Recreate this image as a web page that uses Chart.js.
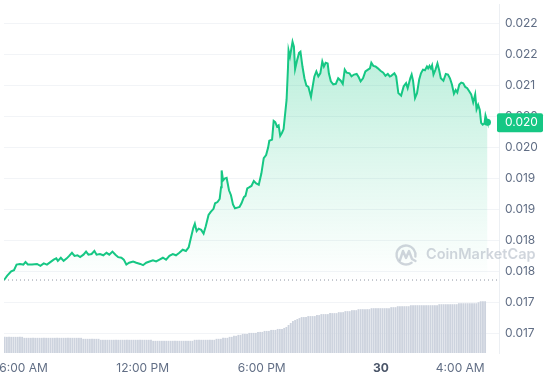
<!DOCTYPE html>
<html>
<head>
<meta charset="utf-8">
<script src="https://cdn.jsdelivr.net/npm/chart.js@4.4.0/dist/chart.umd.min.js"></script>
<style>
  html, body { margin: 0; padding: 0; background: #fff; }
  #wrap { width: 545px; height: 380px; position: relative; }
</style>
</head>
<body>
<div id="wrap"><canvas id="chart"></canvas></div>
<script>
// price, hours since midnight of the 29th (24 = midnight of the 30th)
const priceHours = [
  5.02, 5.18, 5.38, 5.52, 5.65, 5.82, 5.99, 6.10, 6.22, 6.43, 6.68, 6.85, 7.02, 7.18, 7.35, 7.52,
  7.65, 7.73, 7.88, 8.02, 8.18, 8.30, 8.44, 8.57, 8.72, 8.85, 9.02, 9.15, 9.27, 9.43, 9.57, 9.68,
  9.85, 10.02, 10.18, 10.32, 10.48, 10.63, 10.77, 10.93, 11.05, 11.18, 11.32, 11.52, 11.68, 11.88, 12.02, 12.18,
  12.35, 12.52, 12.68, 12.85, 13.02, 13.18, 13.35, 13.52, 13.68, 13.85, 14.02, 14.18, 14.32, 14.43, 14.55, 14.63,
  14.72, 14.82, 14.95, 15.07, 15.18, 15.32, 15.43, 15.57, 15.65, 15.77, 15.88, 15.95, 15.98, 16.05, 16.13, 16.23,
  16.35, 16.45, 16.55, 16.65, 16.77, 16.88, 16.98, 17.10, 17.18, 17.27, 17.38, 17.48, 17.60, 17.72, 17.85, 17.98,
  18.10, 18.22, 18.32, 18.38, 18.52, 18.60, 18.68, 18.77, 18.85, 18.93, 19.02, 19.10, 19.15, 19.25, 19.32, 19.35,
  19.42, 19.48, 19.55, 19.62, 19.68, 19.78, 19.88, 19.95, 20.05, 20.15, 20.25, 20.35, 20.48, 20.55, 20.65, 20.75,
  20.85, 20.95, 21.05, 21.13, 21.22, 21.32, 21.38, 21.48, 21.60, 21.73, 21.85, 21.98, 22.08, 22.18, 22.28, 22.42,
  22.52, 22.65, 22.78, 22.88, 22.98, 23.10, 23.22, 23.35, 23.45, 23.52, 23.62, 23.73, 23.85, 23.98, 24.12, 24.23,
  24.35, 24.45, 24.52, 24.68, 24.77, 24.88, 25.02, 25.15, 25.27, 25.35, 25.48, 25.55, 25.62, 25.72, 25.82, 25.93,
  26.02, 26.12, 26.22, 26.32, 26.38, 26.45, 26.52, 26.58, 26.65, 26.75, 26.85, 26.93, 27.02, 27.15, 27.27, 27.38,
  27.48, 27.58, 27.68, 27.77, 27.85, 27.95, 28.05, 28.15, 28.25, 28.35, 28.45, 28.55, 28.65, 28.75, 28.82, 28.90,
  28.98, 29.05, 29.13, 29.22, 29.27, 29.35, 29.37
]
const prices = [
  0.01836, 0.01843, 0.01850, 0.01852, 0.01861, 0.01862, 0.01861, 0.01865, 0.01861, 0.01861, 0.01862, 0.01859, 0.01863, 0.01861, 0.01865, 0.01869,
  0.01871, 0.01867, 0.01872, 0.01867, 0.01871, 0.01875, 0.01880, 0.01875, 0.01876, 0.01873, 0.01877, 0.01882, 0.01877, 0.01878, 0.01883, 0.01877,
  0.01878, 0.01876, 0.01880, 0.01877, 0.01882, 0.01877, 0.01873, 0.01872, 0.01869, 0.01861, 0.01864, 0.01866, 0.01864, 0.01862, 0.01860, 0.01864,
  0.01866, 0.01868, 0.01866, 0.01869, 0.01872, 0.01869, 0.01875, 0.01878, 0.01876, 0.01880, 0.01885, 0.01883, 0.01889, 0.01904, 0.01920, 0.01927,
  0.01915, 0.01919, 0.01917, 0.01911, 0.01923, 0.01941, 0.01946, 0.01951, 0.01960, 0.01962, 0.01967, 0.01986, 0.02013, 0.01997, 0.02000, 0.02001,
  0.01981, 0.01973, 0.01958, 0.01952, 0.01953, 0.01954, 0.01960, 0.01970, 0.01972, 0.01984, 0.01986, 0.01988, 0.01996, 0.01992, 0.01990, 0.02008,
  0.02033, 0.02038, 0.02050, 0.02061, 0.02063, 0.02093, 0.02091, 0.02084, 0.02086, 0.02069, 0.02074, 0.02080, 0.02096, 0.02127, 0.02178, 0.02207,
  0.02197, 0.02208, 0.02221, 0.02213, 0.02177, 0.02191, 0.02203, 0.02205, 0.02181, 0.02162, 0.02150, 0.02148, 0.02132, 0.02146, 0.02165, 0.02173,
  0.02165, 0.02170, 0.02189, 0.02181, 0.02187, 0.02186, 0.02170, 0.02157, 0.02152, 0.02153, 0.02162, 0.02158, 0.02153, 0.02176, 0.02171, 0.02170,
  0.02165, 0.02168, 0.02169, 0.02164, 0.02157, 0.02162, 0.02173, 0.02176, 0.02178, 0.02187, 0.02182, 0.02181, 0.02178, 0.02174, 0.02171, 0.02166,
  0.02169, 0.02165, 0.02166, 0.02170, 0.02165, 0.02138, 0.02134, 0.02149, 0.02154, 0.02146, 0.02162, 0.02168, 0.02158, 0.02130, 0.02138, 0.02160,
  0.02170, 0.02176, 0.02175, 0.02181, 0.02178, 0.02182, 0.02178, 0.02183, 0.02168, 0.02176, 0.02186, 0.02176, 0.02162, 0.02158, 0.02169, 0.02168,
  0.02162, 0.02152, 0.02137, 0.02143, 0.02139, 0.02152, 0.02155, 0.02154, 0.02148, 0.02146, 0.02141, 0.02136, 0.02123, 0.02136, 0.02112, 0.02119,
  0.02111, 0.02090, 0.02087, 0.02089, 0.02102, 0.02093, 0.02091
]

// volume bars, one every volumeStep hours from volumeStart
const volumeStart = 5.05
const volumeStep = 0.11
const volumes = [
  16, 16, 16, 16, 16, 16, 16, 16, 16,
  15, 15, 15, 15, 15, 15, 15, 15, 15, 15, 15, 15, 15, 15, 15, 15, 15, 15, 15, 15, 15, 15, 15, 15, 15, 15, 15,
  14, 14, 14, 14, 14, 14, 14, 14,
  13, 13, 13, 13, 13, 13, 13, 13, 13, 13, 13, 13, 13, 13, 13, 13, 13, 13, 13, 13, 13, 13, 13, 13,
  12, 12, 12, 12, 12, 12, 12, 12, 12, 12, 12, 12, 12, 12, 12, 12, 12, 12, 12,
  13, 13, 13, 13, 13, 13, 13, 13, 13, 13,
  14, 14, 14, 15, 15, 15,
  16, 16, 17, 17, 18, 18, 19, 19, 19, 20, 20,
  20, 20, 21, 21,
  21, 22, 22, 22, 23, 23, 23, 24, 24, 24, 25,
  26, 28, 30, 32, 33, 34,
  35, 36, 36, 36, 37, 37, 37, 37, 38,
  38, 39, 39, 39, 39, 40, 40, 40, 40,
  41, 41, 41, 42, 42, 42,
  43, 43, 43, 44, 44, 44, 44, 44, 44,
  45, 45, 45, 45, 45, 45, 45, 45, 45,
  46, 46, 46, 47, 47, 47, 47, 47, 47,
  48, 48, 48, 48, 48, 48, 48, 48, 48, 48, 48, 48, 48,
  49, 49, 49, 49, 49, 49, 49, 49, 49,
  50, 50, 50, 50, 50, 50, 50, 50, 50,
  51, 52, 52, 52
]

const xTickValues = [6, 12, 18, 24, 28]
const xTickLabels = ['6:00 AM', '12:00 PM', '6:00 PM', '30', '4:00 AM']
const yTickValues = [0.0225, 0.0220, 0.0215, 0.0210, 0.0205, 0.0200, 0.0195, 0.0190, 0.0185, 0.0180, 0.0175]
const yTickLabels = ['0.022', '0.022', '0.021', '0.020', '0.020', '0.019', '0.019', '0.018', '0.018', '0.017', '0.017']
const lastPriceLabel = '0.020'

const xMin = 5.017
const xMax = 29.95
const yMin = 0.017181
const yMax = 0.02282
const green = '#16c784'
const labelColor = '#616e85'

Chart.defaults.font.family = 'Inter'

const openPrice = prices[0]

let priceFill = function(context) {
  let chart = context.chart
  let area = chart.chartArea
  if (!area) return 'rgba(22,199,132,0.2)'
  let y = chart.scales.y
  let g = chart.ctx.createLinearGradient(0, y.getPixelForValue(0.0222), 0, y.getPixelForValue(openPrice))
  g.addColorStop(0, 'rgba(22,199,132,0.3)')
  g.addColorStop(0.6, 'rgba(22,199,132,0.11)')
  g.addColorStop(1, 'rgba(22,199,132,0)')
  return g
}

const extras = {
  id: 'extras',
  afterDraw(chart) {
    let c = chart.ctx
    let area = chart.chartArea
    // watermark
    c.save()
    c.strokeStyle = 'rgba(170,178,192,0.55)'
    c.fillStyle = 'rgba(170,178,192,0.55)'
    c.lineWidth = 2.4
    c.lineCap = 'round'
    c.lineJoin = 'round'
    c.beginPath()
    c.arc(406, 255, 9.5, 0.3 * Math.PI, 2.05 * Math.PI)
    c.stroke()
    c.beginPath()
    c.moveTo(400, 260)
    c.lineTo(403, 251)
    c.lineTo(406, 258)
    c.lineTo(409, 251)
    c.lineTo(412, 259)
    c.lineTo(415.5, 261)
    c.stroke()
    c.font = '600 14.5px Inter'
    c.textBaseline = 'middle'
    c.textAlign = 'left'
    c.fillText('CoinMarketCap', 426, 255)
    c.restore()

    // last price badge
    let py = chart.scales.y.getPixelForValue(prices[prices.length - 1])
    c.save()
    c.fillStyle = green
    c.beginPath()
    c.roundRect(area.right - 2, py - 9, 46, 19, 2)
    c.fill()
    c.fillStyle = '#ffffff'
    c.font = '12px Inter'
    c.textBaseline = 'middle'
    c.textAlign = 'left'
    c.fillText(lastPriceLabel, area.right + 6, py + 0.5)
    c.restore()
  }
}

new Chart(document.getElementById('chart').getContext('2d'), {
  data: {
    datasets: [
      {
        type: 'line',
        label: 'price',
        data: priceHours.map((h, i) => ({x: h, y: prices[i]})),
        borderColor: green,
        borderWidth: 2,
        backgroundColor: priceFill,
        fill: 'start',
        tension: 0,
        pointRadius: ctx => ctx.dataIndex === prices.length - 1 ? 3.5 : 0,
        pointBackgroundColor: green,
        pointBorderWidth: 0,
        yAxisID: 'y',
        order: 1
      },
      {
        type: 'line',
        label: 'open',
        data: [{x: xMin, y: openPrice}, {x: xMax, y: openPrice}],
        borderColor: '#8d95a3',
        borderWidth: 1,
        borderDash: [1, 3],
        pointRadius: 0,
        fill: false,
        yAxisID: 'y',
        order: 2
      },
      {
        type: 'bar',
        label: 'volume',
        data: volumes.map((v, i) => ({x: volumeStart + i * volumeStep, y: v})),
        backgroundColor: '#cdd3de',
        barThickness: 1.2,
        yAxisID: 'yv',
        order: 3
      }
    ]
  },
  options: {
    responsive: true,
    maintainAspectRatio: false,
    animation: false,
    layout: { padding: 0 },
    plugins: {
      legend: { display: false },
      tooltip: { enabled: false }
    },
    scales: {
      x: {
        type: 'linear',
        min: xMin,
        max: xMax,
        offset: false,
        grid: { display: false, drawTicks: false, offset: false },
        border: { display: false },
        afterBuildTicks: s => { s.ticks = xTickValues.map(v => ({value: v})) },
        afterFit: s => { s.height = 27; s.paddingLeft = 0; s.paddingRight = 0 },
        ticks: {
          padding: 8,
          maxRotation: 0,
          autoSkip: false,
          color: ctx => ctx.tick && ctx.tick.value === 24 ? '#4a5568' : labelColor,
          font: ctx => ({size: 12, weight: ctx.tick && ctx.tick.value === 24 ? '700' : '400'}),
          callback: v => xTickLabels[xTickValues.indexOf(v)]
        }
      },
      y: {
        type: 'linear',
        position: 'right',
        min: yMin,
        max: yMax,
        grid: { color: '#f2f4f7', drawTicks: false },
        border: { display: true, color: '#eceff3' },
        afterBuildTicks: s => { s.ticks = yTickValues.map(v => ({value: v})) },
        afterFit: s => { s.width = 46; s.paddingTop = 0; s.paddingBottom = 0 },
        ticks: {
          padding: 6,
          color: labelColor,
          font: { size: 12 },
          callback: v => yTickLabels[yTickValues.indexOf(v)]
        }
      },
      yv: {
        type: 'linear',
        display: false,
        min: 0,
        max: 353
      }
    }
  },
  plugins: [extras]
})
</script>
</body>
</html>
